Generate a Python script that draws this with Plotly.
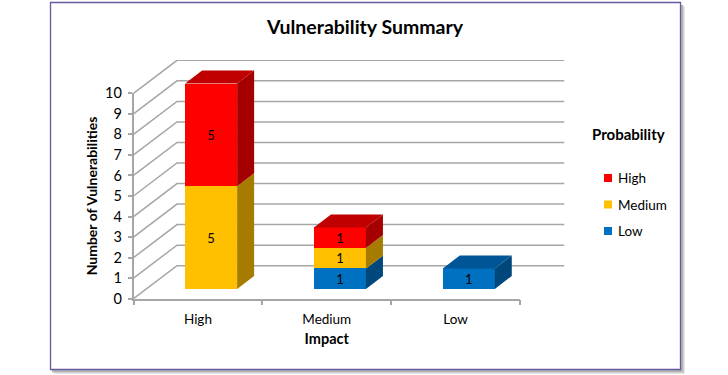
import plotly.graph_objects as go

# ---- data ----
impact_levels = ["High", "Medium", "Low"]
prob_low = [0, 1, 1]
prob_medium = [5, 1, 0]
prob_high = [5, 1, 0]
value_ticks = list(range(0, 11))

series_names = ["Low", "Medium", "High"]
series_values = [prob_low, prob_medium, prob_high]
front_colors = ["#0070c0", "#ffc000", "#ff0000"]
side_colors = ["#00487c", "#a67c00", "#a50000"]
top_colors = ["#005596", "#bf9000", "#c00000"]

# ---- layout constants (pixels of the 728x375 page) ----
W, H = 728, 375
FL, FR, FB, FT = 133.5, 520.0, 298.7, 93.3      # front axes box
BK_R, BK_T = 564.5, 60.0                         # far end of the walls
SLOT = (FR - FL) / 3
UNIT = (FB - FT) / 10
WALL_DX, WALL_DY = 43.5 / SLOT, 33.0 / UNIT      # wall depth, axis units
BAR_DX, BAR_DY = 17.0 / SLOT, 13.0 / UNIT        # bar depth, axis units
BAR_W = 52.0 / SLOT
BAR_SHIFT_X, BAR_SHIFT_Y = 13.2 / SLOT, 9.7 / UNIT  # bar plane behind axis plane
GRID = "#a6a6a6"
FONT = "Lato, Open Sans, sans-serif"


def px(a):
    return a / W


def py(a):
    return 1 - a / H


def dom_x(a, b):
    return [px(a), px(b)]


def dom_y(bottom, top):
    return [py(bottom), py(top)]


fig = go.Figure()

# walls (x/y): floor depth line, diagonals and back lines for each tick
for v in value_ticks:
    fig.add_trace(go.Scatter(
        x=[0, WALL_DX, (BK_R - FL) / SLOT],
        y=[v, v + WALL_DY, v + WALL_DY],
        mode="lines", line=dict(color=GRID, width=1.5),
        showlegend=False, hoverinfo="skip", xaxis="x", yaxis="y"))

# front axes (x2/y2): invisible carrier so the ticked axes are drawn
fig.add_trace(go.Scatter(x=[0, 3], y=[0, 10], mode="none", showlegend=False,
                         hoverinfo="skip", xaxis="x2", yaxis="y2"))

# bars (x3/y3)
centers = [i + 0.5 for i in range(len(impact_levels))]
for name, vals, fc in zip(series_names, series_values, front_colors):
    fig.add_trace(go.Bar(
        x=centers, y=vals, name=name, width=BAR_W, showlegend=False,
        marker=dict(color=fc, line=dict(width=0)),
        text=[str(v) if v else "" for v in vals],
        textposition="inside", insidetextanchor="middle", textangle=0,
        constraintext="none",
        textfont=dict(color="black", size=13, family=FONT),
        xaxis="x3", yaxis="y3"))

# bar side and top faces, built from the same values
for i, c in enumerate(centers):
    base = 0
    top_color = None
    right = c + BAR_W / 2
    left = c - BAR_W / 2
    for vals, sc, tc in zip(series_values, side_colors, top_colors):
        v = vals[i]
        if v:
            fig.add_trace(go.Scatter(
                x=[right, right + BAR_DX, right + BAR_DX, right, right],
                y=[base, base + BAR_DY, base + v + BAR_DY, base + v, base],
                mode="lines", fill="toself", fillcolor=sc, line=dict(width=0),
                showlegend=False, hoverinfo="skip", xaxis="x3", yaxis="y3"))
            base += v
            top_color = tc
    fig.add_trace(go.Scatter(
        x=[left, left + BAR_DX, right + BAR_DX, right, left],
        y=[base, base + BAR_DY, base + BAR_DY, base, base],
        mode="lines", fill="toself", fillcolor=top_color, line=dict(width=0),
        showlegend=False, hoverinfo="skip", xaxis="x3", yaxis="y3"))

x_wall_range = [0, (BK_R - FL) / SLOT]
y_wall_range = [0, (FB - BK_T) / UNIT]
hidden = dict(visible=False, fixedrange=True)

# key at the right: swatch and label per series, top entry first
key_rows = list(zip(reversed(series_names), reversed(front_colors), [178, 204.5, 231]))
key_swatches = [
    dict(type="rect", xref="paper", yref="paper", layer="below",
         x0=px(604), x1=px(612), y0=py(row_y + 4), y1=py(row_y - 4),
         fillcolor=col, line=dict(width=0))
    for _, col, row_y in key_rows
]
key_labels = [
    dict(text=nm, xref="paper", yref="paper", x=px(616), y=py(row_y), xanchor="left",
         yanchor="middle", showarrow=False, font=dict(size=13.5, color="black"))
    for nm, _, row_y in key_rows
]

fig.update_layout(
    width=W, height=H, autosize=False, barmode="stack", showlegend=False,
    margin=dict(l=0, r=0, t=0, b=0, pad=0, autoexpand=False),
    paper_bgcolor="white", plot_bgcolor="rgba(0,0,0,0)",
    font=dict(family=FONT, size=13, color="black"),
    title=dict(text="<b>Vulnerability Summary</b>", x=px(365), xanchor="center",
               y=py(27), yanchor="middle",
               font=dict(size=19.5, color="black", family=FONT)),
    xaxis=dict(domain=dom_x(FL, BK_R), range=x_wall_range, anchor="y", **hidden),
    yaxis=dict(domain=dom_y(FB, BK_T), range=y_wall_range, anchor="x", **hidden),
    xaxis2=dict(domain=dom_x(FL, FR), range=[0, 3], anchor="y2",
                tickmode="array", tickvals=centers, ticktext=impact_levels,
                ticks="", showgrid=False, zeroline=False, ticklabelstandoff=7,
                showline=True, linecolor=GRID, linewidth=1.5,
                minor=dict(tickmode="array", tickvals=[0, 1, 2, 3], ticks="outside",
                           ticklen=5, tickcolor=GRID, tickwidth=1.5, showgrid=False),
                tickfont=dict(size=13.5), fixedrange=True,
                title=dict(text="<b>Impact</b>", font=dict(size=14.5), standoff=8)),
    yaxis2=dict(domain=dom_y(FB, FT), range=[0, 10], anchor="x2",
                tickmode="array", tickvals=value_ticks, ticks="outside", ticklen=4,
                tickcolor=GRID, tickwidth=1.5, showgrid=False, zeroline=False,
                ticklabelstandoff=3,
                showline=True, linecolor=GRID, linewidth=1.5,
                tickfont=dict(size=14.5), fixedrange=True,
                title=dict(text="<b>Number of Vulnerabilities</b>",
                           font=dict(size=14), standoff=4)),
    xaxis3=dict(domain=dom_x(FL, BK_R),
                range=[-BAR_SHIFT_X, x_wall_range[1] - BAR_SHIFT_X], anchor="y3", **hidden),
    yaxis3=dict(domain=dom_y(FB, BK_T),
                range=[-BAR_SHIFT_Y, y_wall_range[1] - BAR_SHIFT_Y], anchor="x3", **hidden),
    annotations=[dict(text="<b>Probability</b>", xref="paper", yref="paper", x=px(628.5),
                      y=py(134), xanchor="center", yanchor="middle",
                      showarrow=False, font=dict(size=15, color="black"))] + key_labels,
    shapes=[
        dict(type="rect", xref="paper", yref="paper", layer="below",
             x0=px(50 + d), x1=px(681 + d), y0=py(370 + d), y1=py(3 + d),
             fillcolor=col, line=dict(width=0))
        for d, col in [(4, "#e6e6e6"), (3, "#cfcfcf"), (2, "#b4b4b4")]
    ] + [
        dict(type="rect", xref="paper", yref="paper", layer="below",
             x0=px(50.5), x1=px(680.5), y0=py(369.5), y1=py(2.5),
             fillcolor="white", line=dict(color="#625a9c", width=1.3))
    ] + key_swatches,
)

fig.write_html("out.html", config={"displayModeBar": False},
               post_script="document.body.style.margin='0';")
